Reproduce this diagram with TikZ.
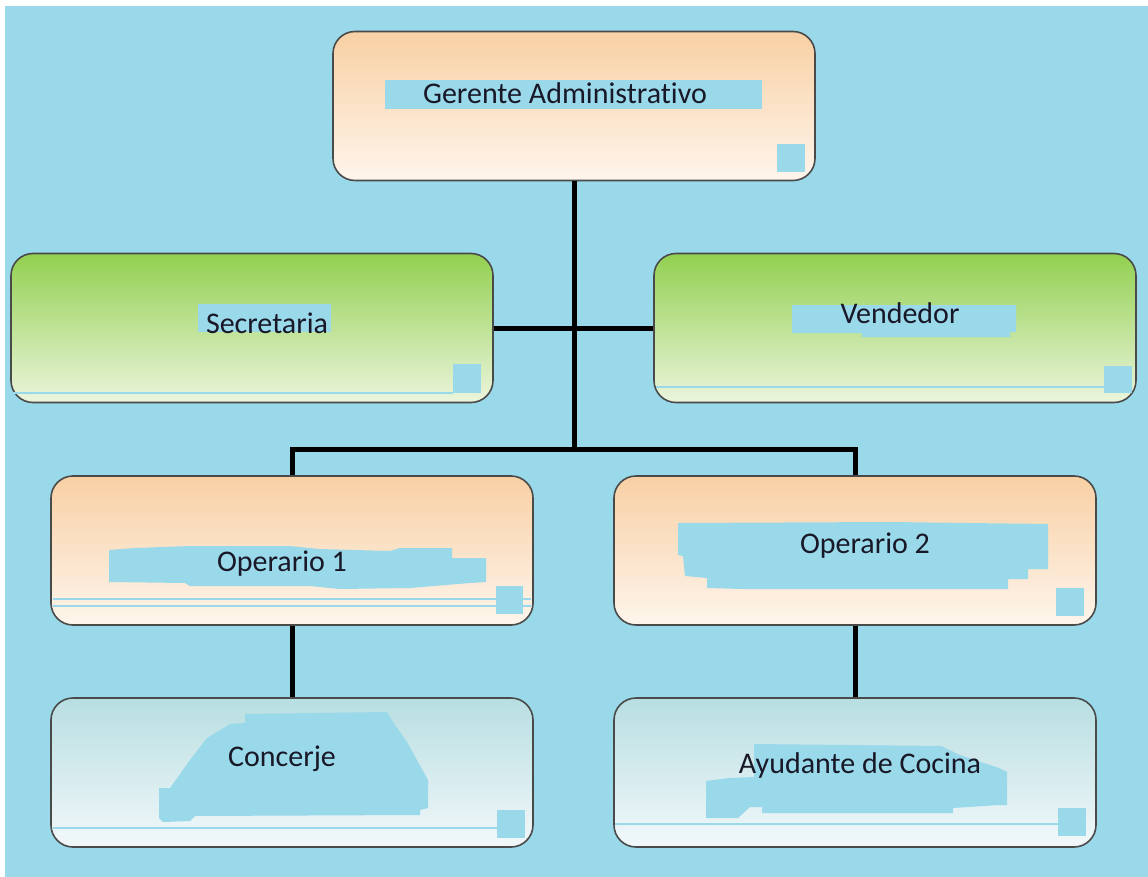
\documentclass[tikz,border=0pt]{standalone}
\usepackage{fontspec}
\setmainfont{Carlito}[Ligatures=NoCommon]
\definecolor{bgblue}{HTML}{9AD9E9}
\definecolor{orTop}{HTML}{F8D0A4}
\definecolor{orBot}{HTML}{FEF5EC}
\definecolor{grTop}{HTML}{92D050}
\definecolor{grBot}{HTML}{ECF5DD}
\definecolor{tlTop}{HTML}{B8DEE1}
\definecolor{tlBot}{HTML}{F2F8FA}
\definecolor{edge}{HTML}{4A4A4A}
\definecolor{ink}{HTML}{181828}
\tikzset{
  box/.style={draw=edge, line width=1.6pt, rounded corners=22pt, minimum width=482pt, minimum height=149pt, inner sep=0pt},
  orangebox/.style={box, top color=orTop, bottom color=orBot},
  greenbox/.style={box, top color=grTop, bottom color=grBot},
  tealbox/.style={box, top color=tlTop, bottom color=tlBot},
  conn/.style={line width=5pt, black},
  patch/.style={fill=bgblue, draw=none},
  stripe/.style={bgblue, line width=2.4pt},
  lbl/.style={anchor=base, inner sep=0pt, text=ink, font=\fontsize{30}{35}\selectfont}
}
\begin{document}
\begin{tikzpicture}[x=1pt, y=-1pt]
\useasboundingbox (0,0) rectangle (1148,877);
\fill[white] (0,0) rectangle (1148,877);
\fill[bgblue] (5,6) rectangle (1148,877);

% boxes
\node[orangebox] (ger) at (574,106) {};
\node[greenbox] (sec) at (252,328) {};
\node[greenbox] (ven) at (895,328) {};
\node[orangebox] (op1) at (292,550.5) {};
\node[orangebox] (op2) at (855,550.5) {};
\node[tealbox] (con) at (292,772.5) {};
\node[tealbox] (ayu) at (855,772.5) {};

% connectors
\coordinate (hub) at (574,449);
\coordinate (bl) at (292,449);
\coordinate (br) at (855,449);
\draw[conn] (ger.south) -- (hub);
\draw[conn] (sec.east) -- (ven.west);
\draw[conn, line join=miter] (op1.north) -- (bl) -- (br) -- (op2.north);
\draw[conn] (op1.south) -- (con.north);
\draw[conn] (op2.south) -- (ayu.north);

% blue patches and stripes
\fill[patch] (385,80) rectangle (762,109);
\fill[patch] (777,144) rectangle (805,172);

\draw[stripe] (13,393) -- (453,393);
\fill[patch] (198,304) rectangle (331,332);
\fill[patch] (453,364) rectangle (481,393);

\draw[stripe] (656,387) -- (1104,387);
\fill[patch] (792,305) -- (1016,305) -- (1016,332) -- (1010,332) -- (1010,337) -- (862,337) -- (862,333) -- (792,333) -- cycle;
\fill[patch] (1104,366) rectangle (1132,393);

\draw[stripe] (53,599) -- (531,599);
\draw[stripe] (53,606) -- (531,606);
\fill[patch] (109,550) -- (135,548) -- (190,546) -- (290,546) -- (320,549) -- (390,551) -- (400,548) -- (452,548) -- (452,558) -- (486,558) -- (486,582) -- (470,583) -- (410,588) -- (340,589) -- (310,586) -- (190,586) -- (185,583) -- (109,582) -- cycle;
\fill[patch] (496,586) rectangle (523,614);

\fill[patch] (678,523) -- (890,522) -- (1048,524) -- (1048,569) -- (1028,569) -- (1028,579) -- (1008,579) -- (1008,589) -- (742,589) -- (707,588) -- (707,578) -- (685,576) -- (683,556) -- (678,555) -- cycle;
\fill[patch] (1056,588) rectangle (1084,616);

\draw[stripe] (53,828) -- (497,828);
\fill[patch] (245,714) -- (387,712) -- (395,725) -- (407,742) -- (428,780) -- (428,808) -- (420,810) -- (420,815) -- (195,816) -- (190,821) -- (163,822) -- (159,818) -- (159,788) -- (170,788) -- (190,760) -- (207,738) -- (230,724) -- (245,723) -- cycle;
\fill[patch] (497,810) rectangle (525,838);

\draw[stripe] (615,824) -- (1058,824);
\fill[patch] (754,744) -- (941,746) -- (960,755) -- (999,768) -- (1007,772) -- (1007,805) -- (999,805) -- (953,808) -- (953,813) -- (762,813) -- (762,807) -- (750,807) -- (738,818) -- (706,818) -- (706,781) -- (729,778) -- (754,777) -- cycle;
\fill[patch] (1058,808) rectangle (1086,836);

% labels
\node[lbl] (tger) at (565,104) {Gerente Administrativo};
\node[lbl] (tsec) at (267,333) {Secretaria};
\node[lbl] (tven) at (900,323) {Vendedor};
\node[lbl] (top1) at (282,571) {Operario 1};
\node[lbl] (top2) at (865,553) {Operario 2};
\node[lbl] (tcon) at (282,766) {Concerje};
\node[lbl] (tayu) at (860,773) {Ayudante de Cocina};
\end{tikzpicture}
\end{document}
